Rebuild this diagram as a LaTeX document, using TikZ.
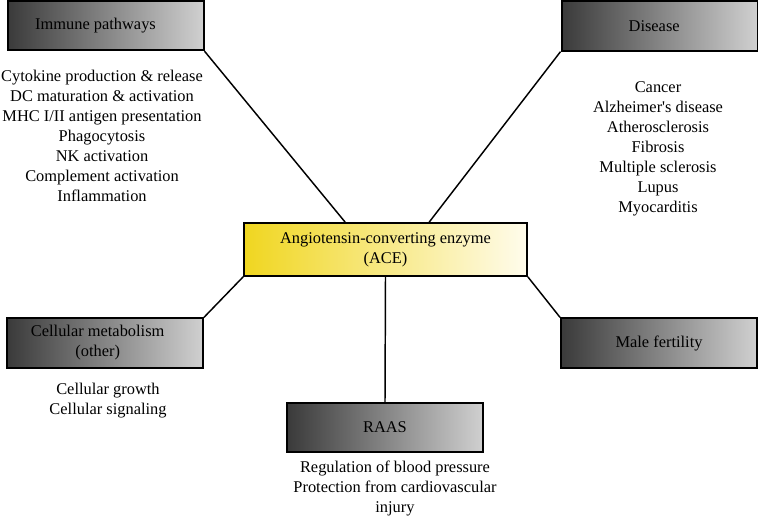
\documentclass[tikz,border=0pt]{standalone}
\usepackage{fontspec}
\setmainfont{Liberation Serif}
\usetikzlibrary{calc}
\definecolor{gdark}{RGB}{58,58,58}
\definecolor{glight}{RGB}{208,208,208}
\definecolor{ydark}{RGB}{240,214,32}
\definecolor{ylight}{RGB}{255,252,236}
\tikzset{
  graybox/.style={draw=black, line width=1.5pt, left color=gdark, right color=glight,
    minimum width=147pt, minimum height=37pt, inner sep=0pt, align=center,
    font=\fontsize{12.3}{15}\selectfont},
  acebox/.style={draw=black, line width=1.5pt, left color=ydark, middle color=ydark!70!ylight, right color=ylight,
    minimum width=212pt, minimum height=39.5pt, inner sep=0pt, align=center,
    font=\fontsize{12.3}{15}\selectfont},
  listtext/.style={align=center, inner sep=0pt, font=\fontsize{12.3}{15}\selectfont},
  conn/.style={draw=black, line width=1.1pt}
}
\begin{document}
\begin{tikzpicture}[x=0.75pt,y=-0.75pt]
\useasboundingbox (0,0) rectangle (758,516);
% boxes
\node[graybox] (imm) at (105.5,25.5) {Immune pathways\hspace*{15pt}};
\node[graybox] (dis) at (659.5,26) {Disease\hspace*{8pt}};
\node[acebox] (ace) at (385.5,249.5) {Angiotensin-converting enzyme\\(ACE)};
\node[graybox] (cell) at (105,343) {Cellular metabolism\hspace*{11pt}\\(other)\hspace*{11pt}};
\node[graybox] (male) at (659,343) {Male fertility};
\node[graybox] (raas) at (385,427.5) {RAAS};
% connectors
\coordinate (aceA) at ($(ace.north west)+(102,0)$);
\coordinate (aceB) at ($(ace.north west)+(186,0)$);
\draw[conn] (imm.south east) -- (aceA);
\draw[conn] (dis.south west) -- (aceB);
\draw[conn] (ace.south west) -- (cell.north east);
\draw[conn] (ace.south east) -- (male.north west);
\draw[conn] (ace.south) -- (raas.north);
% lists
\node[listtext] (immlist) at (102,136) {Cytokine production \& release\\DC maturation \& activation\\MHC I/II antigen presentation\\Phagocytosis\\NK activation\\Complement activation\\Inflammation};
\node[listtext] (dislist) at (658,149) {Cancer\\Alzheimer\textquotesingle s disease\\Atherosclerosis\\Fibrosis\\Multiple sclerosis\\Lupus\\Myocarditis};
\node[listtext] (celllist) at (108,401) {Cellular growth\\Cellular signaling};
\node[listtext] (raaslist) at (395,488) {Regulation of blood pressure\\Protection from cardiovascular\\injury};
\end{tikzpicture}
\end{document}
